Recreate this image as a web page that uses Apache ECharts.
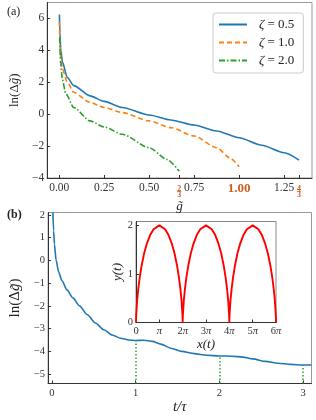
<!DOCTYPE html>
<html><head><meta charset="utf-8">
<script src="https://cdn.jsdelivr.net/npm/echarts@6/dist/echarts.min.js"></script>
<style>html,body{margin:0;padding:0;background:#fff}#c{width:316px;height:420px}</style>
</head><body><div id="c"></div>
<script>
// Panel (a): ln(Δg̃) vs g̃
const blueX = [0.0012,0.004,0.009,0.018,0.045,0.081,0.171,0.25,0.351,0.5,0.62,0.75,0.874,1.0,1.126,1.25,1.333];
const blueY = [6.25,5.1,4.0,3.26,2.3,1.79,1.15,0.8,0.42,-0.05,-0.36,-0.68,-1.05,-1.48,-1.95,-2.42,-2.88];
const orangeX = [0.001,0.004,0.009,0.018,0.045,0.081,0.171,0.25,0.351,0.5,0.62,0.75,0.874,0.95,1.0];
const orangeY = [5.8,4.3,3.47,2.84,2.0,1.37,0.74,0.42,0.1,-0.42,-0.84,-1.37,-2.1,-2.75,-3.3];
const greenX = [0.003,0.008,0.018,0.036,0.081,0.171,0.25,0.351,0.5,0.6,0.667];
const greenY = [4.8,3.2,2.15,1.3,0.42,-0.42,-0.8,-1.26,-2.1,-2.84,-3.58];
const legendNames = ['ζ = 0.5','ζ = 1.0','ζ = 2.0'];
const aTickX = [0,0.25,0.5,2/3,0.75,1,1.25,4/3];
const aTickXLabels = ['0.00','0.25','0.50','{nt|2}\n{fb|–}\n{nb|3}','0.75','{big|1.00}','1.25','{nt|4}\n{fb|–}\n{nb|3}'];
const aTickY = [-4,-2,0,2,4,6];

// Panel (b): ln(Δg̃) vs t/τ
const bT = [0.012,0.02,0.03,0.05,0.08,0.12,0.18,0.25,0.33,0.42,0.52,0.62,0.72,0.82,0.92,1.0,1.1,1.2,1.3,1.42,1.55,1.7,1.85,2.0,2.15,2.28,2.4,2.55,2.7,2.85,3.0,3.1];
const bY = [2.1,1.3,0.7,0.0,-0.5,-0.9,-1.3,-1.65,-2.0,-2.38,-2.75,-3.05,-3.28,-3.42,-3.5,-3.52,-3.51,-3.56,-3.68,-3.86,-4.0,-4.1,-4.17,-4.2,-4.21,-4.25,-4.33,-4.44,-4.52,-4.57,-4.6,-4.6];
const dropT = [1,2,3];
const dropY = [-3.52,-4.2,-4.6];
const bTickX = [0,1,2,3];
const bTickY = [-5,-4,-3,-2,-1,0,1,2];

// Inset: y(t) vs x(t) (x in units of π)
const cycX = [0,0.0014,0.0113,0.0505,0.0958,0.16,0.244,0.347,0.469,0.605,0.754,1,1.246,1.395,1.531,1.653,1.756,1.84,1.904,1.9495,1.9887,1.9986,
  2,2.0014,2.0113,2.0505,2.0958,2.16,2.244,2.347,2.469,2.605,2.754,3,3.246,3.395,3.531,3.653,3.756,3.84,3.904,3.9495,3.9887,3.9986,
  4,4.0014,4.0113,4.0505,4.0958,4.16,4.244,4.347,4.469,4.605,4.754,5,5.246,5.395,5.531,5.653,5.756,5.84,5.904,5.9495,5.9887,5.9986,6];
const cycY = [0,0.045,0.175,0.46,0.685,0.93,1.18,1.42,1.63,1.8,1.92,2,1.92,1.8,1.63,1.42,1.18,0.93,0.685,0.46,0.175,0.045,
  0,0.045,0.175,0.46,0.685,0.93,1.18,1.42,1.63,1.8,1.92,2,1.92,1.8,1.63,1.42,1.18,0.93,0.685,0.46,0.175,0.045,
  0,0.045,0.175,0.46,0.685,0.93,1.18,1.42,1.63,1.8,1.92,2,1.92,1.8,1.63,1.42,1.18,0.93,0.685,0.46,0.175,0.045,0];
const insetTickX = [0,1,2,3,4,5,6];
const insetTickY = [0,1,2];

const zip = (xs, ys) => xs.map((x, i) => [x, ys[i]]);
const SERIF = 'Liberation Serif';
const DARK = '#333';
const FRAC = '#c8601e';
const minus = v => (v < 0 ? '\u2212' + (-v) : '' + v);

const axisCommon = () => ({
  axisLine: { onZero: false, lineStyle: { color: DARK, width: 1 } },
  splitLine: { show: false },
});

const chart = echarts.init(document.getElementById('c'), null, { renderer: 'canvas' });
chart.setOption({
  animation: false,
  backgroundColor: '#fff',
  title: [
    { text: '(a)', left: 7, top: 6, padding: 0, textStyle: { fontFamily: SERIF, fontSize: 12, fontWeight: 'normal', color: '#222' } },
    { text: '(b)', left: 7, top: 209, padding: 0, textStyle: { fontFamily: SERIF, fontSize: 12, fontWeight: 'bold', color: '#222' } }
  ],
  legend: {
    data: legendNames,
    left: 213, top: 13, orient: 'vertical',
    padding: [5, 9, 6, 5],
    itemWidth: 28, itemHeight: 14, itemGap: 5,
    borderColor: '#ccc', borderWidth: 1, borderRadius: 3,
    backgroundColor: '#fff',
    itemStyle: { opacity: 0 },
    formatter: n => '{i|ζ}' + n.slice(1),
    textStyle: { fontFamily: SERIF, fontSize: 13, color: '#222', padding: [0, 0, 0, 7],
      rich: { i: { fontFamily: SERIF, fontStyle: 'italic', fontSize: 13, color: '#222' } } }
  },
  grid: [
    { left: 39.5, top: 2.5, width: 272.5, height: 175.5, show: true, borderColor: '#999', borderWidth: 1, backgroundColor: 'transparent' },
    { left: 39.5, top: 212.5, width: 272, height: 171, show: true, borderColor: '#999', borderWidth: 1, backgroundColor: 'transparent' },
    { left: 136, top: 221.5, width: 140, height: 101, show: true, borderColor: '#888', borderWidth: 1, backgroundColor: '#fff' }
  ],
  xAxis: [
    Object.assign(axisCommon(), {
      gridIndex: 0, type: 'value', min: -0.067, max: 1.405,
      axisTick: { inside: true, length: 3, customValues: aTickX, lineStyle: { color: DARK } },
      axisLabel: {
        customValues: aTickX, margin: 4, fontFamily: SERIF, fontSize: 11.5, color: '#333',
        formatter: v => { const i = aTickX.findIndex(t => Math.abs(t - v) < 1e-6); return i >= 0 ? aTickXLabels[i] : ''; },
        rich: {
          nt: { fontFamily: SERIF, fontSize: 8, lineHeight: 8, padding: [5, 0, 0, 0], color: FRAC, fontWeight: 'bold' },
          fb: { fontFamily: SERIF, fontSize: 8, lineHeight: 1, color: FRAC, fontWeight: 'bold' },
          nb: { fontFamily: SERIF, fontSize: 8, lineHeight: 8, color: FRAC, fontWeight: 'bold' },
          big: { fontFamily: SERIF, fontSize: 13, fontWeight: 'bold', color: FRAC }
        }
      },
      name: 'g\u0303', nameLocation: 'middle', nameGap: 13,
      nameTextStyle: { fontFamily: SERIF, fontStyle: 'italic', fontSize: 13, color: '#222' }
    }),
    Object.assign(axisCommon(), {
      gridIndex: 1, type: 'value', min: -0.046, max: 3.1,
      axisTick: { inside: true, length: 3, customValues: bTickX, lineStyle: { color: DARK } },
      axisLabel: { customValues: bTickX, margin: 4, fontFamily: SERIF, fontSize: 10.5, color: '#333', formatter: v => '' + v },
      name: 't/τ', nameLocation: 'middle', nameGap: 15,
      nameTextStyle: { fontFamily: SERIF, fontStyle: 'italic', fontSize: 15, color: '#222' }
    }),
    Object.assign(axisCommon(), {
      gridIndex: 2, type: 'value', min: 0, max: 6,
      axisTick: { inside: true, length: 3, customValues: insetTickX, lineStyle: { color: DARK } },
      axisLabel: {
        customValues: insetTickX, margin: 3, fontFamily: SERIF, fontSize: 10.5, color: '#333',
        formatter: v => (v === 0 ? '0' : (v === 1 ? '{i|π}' : v + '{i|π}')),
        rich: { i: { fontFamily: SERIF, fontStyle: 'italic', fontSize: 10.5, color: '#333' } }
      },
      name: 'x(t)', nameLocation: 'middle', nameGap: 16,
      nameTextStyle: { fontFamily: SERIF, fontStyle: 'italic', fontSize: 13, color: '#222' }
    })
  ],
  yAxis: [
    Object.assign(axisCommon(), {
      gridIndex: 0, type: 'value', min: -4, max: 7,
      axisTick: { inside: true, length: 3, customValues: aTickY, lineStyle: { color: DARK } },
      axisLabel: { customValues: aTickY, margin: 3, fontFamily: SERIF, fontSize: 11.5, color: '#333', formatter: minus },
      name: 'ln(Δ{i|g\u0303})', nameLocation: 'middle', nameGap: 20, nameRotate: 90,
      nameTextStyle: { fontFamily: SERIF, fontSize: 13, color: '#222',
        rich: { i: { fontFamily: SERIF, fontStyle: 'italic', fontSize: 13, color: '#222' } } }
    }),
    Object.assign(axisCommon(), {
      gridIndex: 1, type: 'value', min: -5.41, max: 2.1,
      axisTick: { inside: true, length: 3, customValues: bTickY, lineStyle: { color: DARK } },
      axisLabel: { customValues: bTickY, margin: 3, fontFamily: SERIF, fontSize: 10.5, color: '#333', formatter: minus },
      name: 'ln(Δ{i|g\u0303})', nameLocation: 'middle', nameGap: 19, nameRotate: 90,
      nameTextStyle: { fontFamily: SERIF, fontSize: 15, color: '#222',
        rich: { i: { fontFamily: SERIF, fontStyle: 'italic', fontSize: 15, color: '#222' } } }
    }),
    Object.assign(axisCommon(), {
      gridIndex: 2, type: 'value', min: 0, max: 2.08,
      axisTick: { inside: true, length: 3, customValues: insetTickY, lineStyle: { color: DARK } },
      axisLabel: { customValues: insetTickY, margin: 3, fontFamily: SERIF, fontSize: 10.5, color: '#333', formatter: v => '' + v },
      name: 'y(t)', nameLocation: 'middle', nameGap: 8, nameRotate: 90,
      nameTextStyle: { fontFamily: SERIF, fontStyle: 'italic', fontSize: 13, color: '#222' }
    })
  ],
  series: [
    { name: legendNames[0], type: 'line', xAxisIndex: 0, yAxisIndex: 0, data: zip(blueX, blueY), symbol: 'none',
      smooth: 0.25, smoothMonotone: 'x', lineStyle: { color: '#1f77b4', width: 1.6 }, itemStyle: { color: '#1f77b4' } },
    { name: legendNames[1], type: 'line', xAxisIndex: 0, yAxisIndex: 0, data: zip(orangeX, orangeY), symbol: 'none',
      smooth: 0.25, smoothMonotone: 'x', lineStyle: { color: '#ff7f0e', width: 1.6, type: [5, 3] }, itemStyle: { color: '#ff7f0e' } },
    { name: legendNames[2], type: 'line', xAxisIndex: 0, yAxisIndex: 0, data: zip(greenX, greenY), symbol: 'none',
      smooth: 0.25, smoothMonotone: 'x', lineStyle: { color: '#2ca02c', width: 1.6, type: [6, 2, 1.5, 2] }, itemStyle: { color: '#2ca02c' } },
    { type: 'line', xAxisIndex: 1, yAxisIndex: 1, data: zip(bT, bY), symbol: 'none',
      smooth: 0.25, smoothMonotone: 'x', lineStyle: { color: '#1f77b4', width: 1.6 },
      markLine: {
        silent: true, symbol: 'none', label: { show: false },
        lineStyle: { color: '#2ca02c', width: 1.5, type: [1.5, 2] },
        data: dropT.map((t, i) => [{ coord: [t, -5.41] }, { coord: [t, dropY[i]] }])
      } },
    { type: 'line', xAxisIndex: 2, yAxisIndex: 2, data: zip(cycX, cycY), symbol: 'none',
      lineStyle: { color: '#ff0000', width: 1.9 } }
  ]
});
</script></body></html>
